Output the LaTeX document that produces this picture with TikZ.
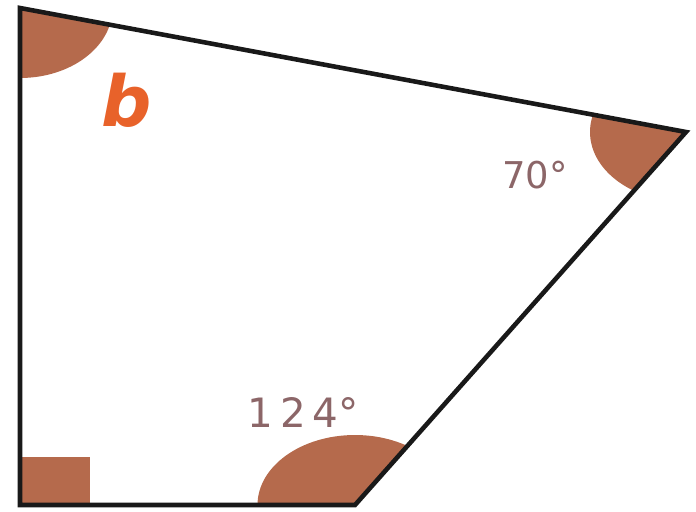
\documentclass[tikz,border=0pt]{standalone}
\usepackage{fontspec}
\setmainfont{DejaVu Sans}
\usepackage{tikz}
\usetikzlibrary{positioning,calc}

\definecolor{anglefill}{RGB}{181,106,76}
\definecolor{labelgray}{RGB}{140,102,104}
\definecolor{borange}{RGB}{232,98,42}

\begin{document}
\begin{tikzpicture}[scale=1.0, every node/.style={font=\large}]
            \tikzstyle{side}=[draw=black!90, line width=2.6pt]
            \tikzstyle{anglemark}=[fill=anglefill]
            \tikzstyle{deg}=[text=labelgray, font=\fontsize{21}{21}\selectfont]
            \useasboundingbox (0,0) rectangle (13.92,-10.22);
            \coordinate (A) at (0.4,-0.16);
            \coordinate (C) at (13.72,-2.64);
            \coordinate (D) at (7.1,-10.1);
            \coordinate (E) at (0.4,-10.1);
            % angle marks
            \begin{scope}
                \clip (A) -- (C) -- (D) -- (E) -- cycle;
                \fill[anglemark] (A) ellipse [x radius=1.85, y radius=1.4];
                \fill[anglemark] (C) ellipse [x radius=1.92, y radius=1.4];
                \fill[anglemark] (D) ellipse [x radius=1.95, y radius=1.4];
                \fill[anglemark] (E) rectangle (1.8,-9.14);
            \end{scope}
            \draw[side] (A) -- (C) -- (D) -- (E) -- cycle;
            \node[text=borange, font=\fontsize{40}{40}\selectfont\bfseries\itshape] (b) at (2.54,-2.0) {b};
            \node[deg] (c) at (10.7,-3.5) {70°};
            \node[deg, font=\fontsize{23}{23}\selectfont] (d) at (6.06,-8.25) {1\,2\,4°};
        \end{tikzpicture}
\end{document}
